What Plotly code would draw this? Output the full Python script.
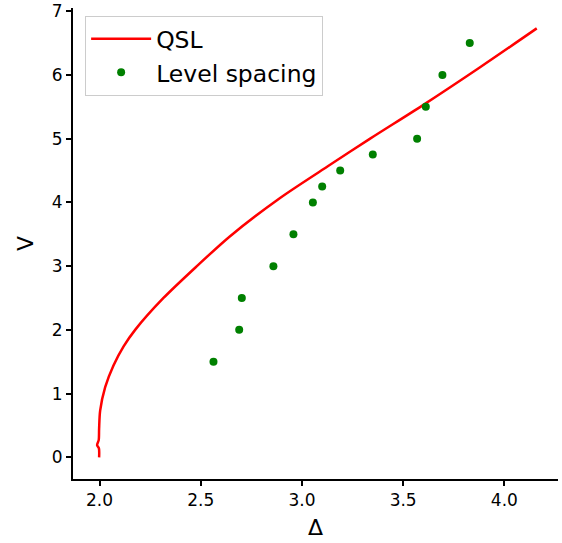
import plotly.graph_objects as go

# QSL curve
qsl_delta = [1.998, 1.997, 1.988, 1.996, 1.998, 2.003, 2.028, 2.069, 2.119, 2.176, 2.316,
             2.481, 2.645, 2.892, 3.139, 3.337, 3.60, 3.88, 4.16]
qsl_v = [0.0, 0.14, 0.19, 0.27, 0.45, 0.73, 1.10, 1.44, 1.74, 2.0, 2.5,
         3.0, 3.47, 4.07, 4.59, 5.0, 5.53, 6.12, 6.73]

# Level spacing points
ls_delta = [2.563, 2.690, 2.703, 2.859, 2.958, 3.054, 3.100, 3.189, 3.350, 3.569, 3.612, 3.694, 3.829]
ls_v = [1.5, 2.0, 2.5, 3.0, 3.5, 4.0, 4.25, 4.5, 4.75, 5.0, 5.5, 6.0, 6.5]

x_ticks = [2.0, 2.5, 3.0, 3.5, 4.0]
x_labels = ["2.0", "2.5", "3.0", "3.5", "4.0"]
y_ticks = [0, 1, 2, 3, 4, 5, 6, 7]

fig = go.Figure()
fig.add_trace(go.Scatter(x=qsl_delta, y=qsl_v, mode="lines", name="QSL",
                         line=dict(color="#ff0000", width=2.5, shape="spline", smoothing=0.8)))
fig.add_trace(go.Scatter(x=ls_delta, y=ls_v, mode="markers", name="Level spacing",
                         marker=dict(color="#008000", size=8)))

font = "DejaVu Sans"
fig.update_layout(
    width=562, height=543,
    margin=dict(l=73, r=4, t=8, b=64),
    paper_bgcolor="white", plot_bgcolor="white",
    font=dict(family=font, color="black", size=17),
    showlegend=True,
    legend=dict(x=0.025, y=0.983, xanchor="left", yanchor="top",
                bgcolor="rgba(255,255,255,0.8)", bordercolor="#cccccc", borderwidth=1,
                font=dict(family=font, size=23.5, color="black"),
                itemwidth=60, tracegroupgap=0),
    xaxis=dict(range=[1.869, 4.265], tickvals=x_ticks, ticktext=x_labels, automargin=False,
               showgrid=False, zeroline=False, showline=True, linecolor="black", linewidth=2,
               ticks="outside", ticklen=5, tickwidth=1.5, tickcolor="black",
               tickfont=dict(size=17), title=dict(text="Δ", font=dict(size=22), standoff=10)),
    yaxis=dict(range=[-0.34, 7.05], tickvals=y_ticks, ticklabeloverflow="allow", automargin=False,
               showgrid=False, zeroline=False, showline=True, linecolor="black", linewidth=2,
               ticks="outside", ticklen=5, tickwidth=1.5, tickcolor="black",
               tickfont=dict(size=17), title=dict(text="V", font=dict(size=22), standoff=12)),
)

fig.write_html("out.html")
